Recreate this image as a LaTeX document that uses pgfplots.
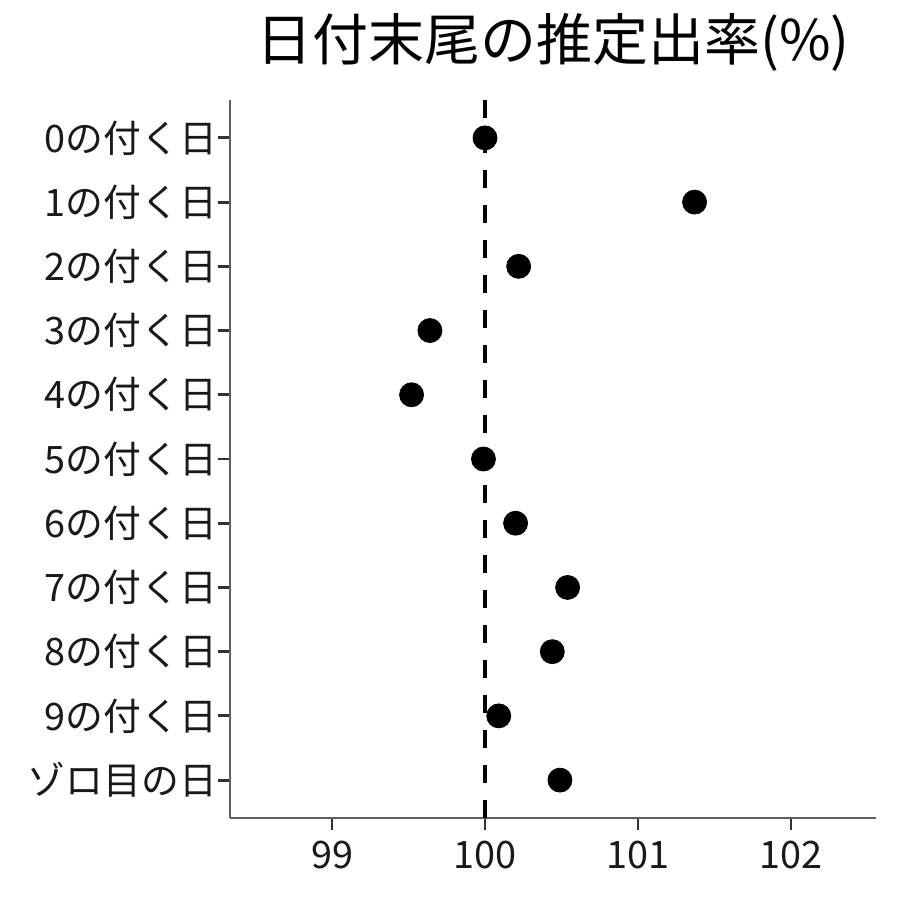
\documentclass[border=0pt]{standalone}
\usepackage{fontspec}
\setmainfont{Noto Sans CJK JP}
\usepackage{pgfplots}
\pgfplotsset{compat=1.18}

\begin{document}
\begin{tikzpicture}
\path[use as bounding box] (-115pt,-41pt) rectangle (335pt,409pt);
\begin{axis}[
    scale only axis,
    width=323pt, height=359pt,
    at={(0,0)}, anchor=south west,
    xmin=98.333, xmax=102.556,
    ymin=0.41, ymax=11.59,
    axis x line*=bottom, axis y line*=left,
    axis line style={gray!75!black, line width=0.6pt, -},
    xtick={99,100,101,102},
    ytick={1,...,11},
    yticklabels={ゾロ目の日,9の付く日,8の付く日,7の付く日,6の付く日,5の付く日,4の付く日,3の付く日,2の付く日,1の付く日,0の付く日},
    tick align=outside,
    major tick length=6pt,
    tick style={black!80, line width=1.4pt},
    ticklabel style={font=\fontsize{18.9}{19}\selectfont, text=black!90},
    /pgf/number format/assume math mode=true,
    xticklabel style={yshift=-2pt},
    yticklabel style={xshift=3pt},
    clip=false,
    title={日付末尾の推定出率(\%)},
    title style={font=\fontsize{28}{28}\selectfont, yshift=4.5pt},
]
\addplot[black, line width=2pt, dash pattern=on 9pt off 8.5pt] coordinates {(100,0.41) (100,11.59)};
\addplot[only marks, mark=*, mark size=6pt, black] coordinates {
    (100.00,11) (101.37,10) (100.22,9) (99.64,8) (99.52,7) (99.99,6)
    (100.20,5) (100.54,4) (100.44,3) (100.09,2) (100.49,1)
};
\end{axis}
\end{tikzpicture}
\end{document}
